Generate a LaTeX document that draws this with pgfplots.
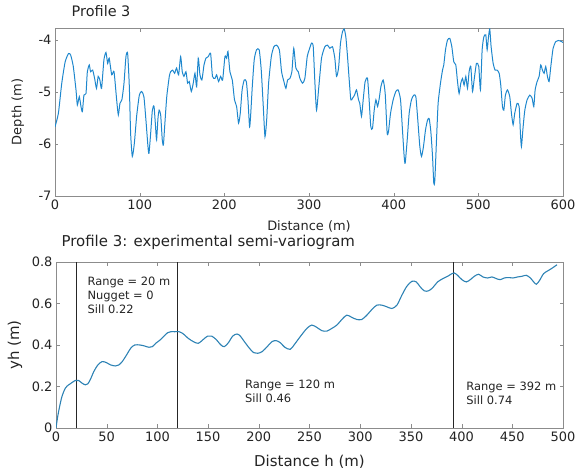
\documentclass[border=0pt]{standalone}
\usepackage{pgfplots}
\pgfplotsset{compat=1.18}
\usepackage{fontspec}
\setmainfont{DejaVu Sans}
\definecolor{profblue}{RGB}{30,135,205}
\definecolor{vgblue}{RGB}{45,130,180}
\definecolor{axgray}{RGB}{140,140,140}
\definecolor{txtgray}{RGB}{35,35,35}
\begin{document}
\begin{tikzpicture}
\useasboundingbox (0,0) rectangle (577bp,-472bp);
\begin{axis}[
  at={(55bp,-28bp)}, anchor=north west,
  scale only axis, width=508bp, height=168bp,
  xmin=0, xmax=600, ymin=-7, ymax=-3.77,
  xtick={0,100,...,600}, ytick={-7,-6,-5,-4},
  /pgf/number format/assume math mode=true,
  axis line style={axgray}, tick style={axgray},
  tick align=inside, major tick length=3.5bp,
  ticklabel style={font=\fontsize{13}{15}\selectfont, text=txtgray},
  xlabel={Distance (m)}, ylabel={Depth (m)},
  xlabel style={font=\fontsize{13}{15}\selectfont, text=txtgray, at={(axis description cs:0.5,-0.18)}, anchor=center},
  ylabel style={font=\fontsize{13}{15}\selectfont, text=txtgray, at={(axis description cs:-0.073,0.5)}, anchor=center},
  title={Profile 3},
  title style={font=\fontsize{14.5}{16}\selectfont, text=txtgray, at={(axis description cs:0.026,1.065)}, anchor=west},
]
\addplot[profblue, line width=1pt, smooth, tension=0.35] coordinates {
(0,-5.67)(4,-5.41)(8,-4.83)(12,-4.42)(16,-4.26)(18.5,-4.29)(21.6,-4.51)(24.8,-4.96)(26.4,-5.25)(28.7,-5.09)
(30.7,-5.28)(32.3,-5.38)(34.2,-5.06)(36.6,-5.03)(38.2,-4.61)(40.5,-4.48)(42,-4.61)(44.5,-4.58)(46.8,-4.74)(49,-4.93)
(51,-4.70)(53,-4.77)(55,-4.93)(57.8,-4.38)(60.2,-4.24)(62.2,-4.45)(64,-4.35)(67,-4.67)(69.7,-4.61)(72.8,-5.15)
(74.8,-5.44)(76.7,-5.22)(79,-5.15)(81.5,-4.83)(83.8,-4.32)(85.8,-4.26)(87.8,-4.90)(89.3,-5.79)(91.3,-6.24)(93.7,-5.99)
(96.4,-5.47)(99.6,-5.06)(102.3,-4.99)(105,-5.09)(107.4,-5.54)(109.8,-6.05)(111,-6.18)(113,-5.79)(115,-5.35)(117,-5.28)
(119,-5.73)(120,-5.92)(121.6,-5.51)(123,-5.35)(124.8,-5.44)(126.7,-5.92)(128,-6.02)(129.5,-5.67)(132,-5.09)(135,-4.70)
(136.6,-4.61)(139,-4.58)(141.3,-4.64)(143.6,-4.54)(146,-4.67)(148.4,-4.32)(150.3,-4.61)(152.3,-4.70)(154.7,-4.61)(156.6,-4.83)
(158.6,-4.80)(161,-4.99)(163.3,-4.83)(165.3,-4.64)(167.3,-4.90)(169.2,-4.35)(171.2,-4.67)(173.5,-4.77)(176,-4.48)(178.3,-4.35)
(181,-4.32)(183.8,-4.26)(186,-4.70)(189,-4.74)(190.9,-4.67)(193.2,-4.80)(195.6,-4.70)(198,-4.77)(200.7,-4.32)(202.7,-4.35)
(204.3,-4.22)(206.6,-4.61)(209.4,-4.77)(212,-5.15)(214.5,-5.28)(216.8,-5.60)(218.8,-5.41)(221,-4.96)(223.5,-4.77)(226,-4.80)
(227.9,-5.15)(229.8,-5.67)(231,-5.47)(233,-4.90)(235.3,-4.38)(238,-4.19)(241.2,-4.19)(243.6,-4.58)(246,-5.28)(248,-5.86)
(250,-5.54)(252.3,-4.83)(255.5,-4.32)(258.5,-4.13)(261.7,-4.10)(265,-4.19)(267.6,-4.61)(270.4,-4.80)(272.7,-4.93)(274.7,-4.77)
(277.4,-4.74)(279.8,-4.61)(282,-4.16)(284.5,-4.54)(287.3,-4.61)(289.3,-4.74)(292.4,-4.83)(295.1,-4.74)(297.9,-4.32)(300.2,-4.19)
(303,-4.06)(305,-4.13)(307,-4.83)(308.9,-5.35)(311.6,-4.90)(314.8,-4.35)(318.7,-4.13)(321.9,-4.10)(324.6,-4.16)(327.8,-4.13)
(330.5,-4.35)(332.5,-4.70)(334.9,-4.54)(337.2,-4.06)(339.6,-3.84)(341.6,-3.79)(343.5,-3.94)(345.5,-4.32)(347.5,-4.77)(349.4,-5.15)
(351.4,-5.12)(353.8,-5.06)(356.1,-4.96)(358.5,-5.15)(360,-5.22)(362,-5.47)(364,-5.15)(366.3,-4.80)(369.1,-4.74)(371,-5.15)
(373,-5.67)(375,-5.70)(377,-5.35)(379,-5.15)(381,-5.28)(383,-5.12)(384.9,-4.90)(387.6,-4.77)(390,-5.03)(392.3,-5.79)
(393.9,-5.76)(396.3,-5.41)(399.4,-5.15)(402.6,-4.99)(405.3,-4.96)(408.1,-5.15)(410.4,-5.73)(412.4,-6.24)(413.6,-6.37)(416,-5.92)
(418.3,-5.41)(421,-5.15)(423.8,-5.06)(426.2,-5.09)(428.5,-5.54)(430.9,-6.05)(432.9,-6.24)(435.2,-6.05)(437.6,-5.73)(440,-5.54)
(441.9,-5.51)(443.9,-5.76)(445.9,-6.24)(447.4,-6.76)(448.6,-6.70)(450.6,-5.92)(452.5,-5.22)(455.3,-4.83)(457.7,-4.58)(459.2,-4.48)
(461.2,-4.19)(463.6,-4.00)(466.3,-3.97)(468.7,-4.13)(471,-4.42)(473.4,-4.48)(475.4,-4.80)(477.3,-5.03)(479.3,-4.83)(481.3,-4.74)
(483.2,-4.87)(485.2,-4.70)(487.2,-4.93)(489.1,-4.61)(491.1,-4.51)(493.1,-4.99)(495,-4.77)(497.8,-4.45)(500.5,-4.51)(502.5,-4.96)
(504.5,-4.19)(506.5,-3.94)(508.8,-3.90)(510.4,-4.19)(512,-3.94)(513.5,-3.79)(515.1,-4.13)(517.5,-4.45)(519.8,-4.58)(522.2,-4.58)
(524.6,-4.64)(526.5,-4.87)(528.5,-5.28)(530.1,-5.35)(532,-5.06)(534.4,-4.96)(537.1,-5.09)(539.1,-5.41)(541.1,-5.63)(543,-5.41)
(545.8,-5.22)(548.2,-5.28)(549.7,-5.79)(550.9,-6.05)(552.9,-5.67)(554.9,-5.35)(557.6,-5.15)(560.8,-5.06)(563.5,-5.12)(565.5,-5.28)
(567.1,-4.96)(569.4,-4.80)(571.8,-4.70)(573.7,-4.48)(575.7,-4.58)(577.7,-4.64)(579.6,-4.51)(581.6,-4.70)(583.6,-4.80)(585.6,-4.51)
(588.3,-4.16)(591.5,-4.03)(594.6,-4.01)(598.2,-4.03)(600,-4.05)
};
\end{axis}
\begin{axis}[
  at={(56bp,-262bp)}, anchor=north west,
  scale only axis, width=507bp, height=166bp,
  xmin=0, xmax=500, ymin=0, ymax=0.8,
  xtick={0,50,...,500}, ytick={0,0.2,0.4,0.6,0.8},
  yticklabels={0,0.2,0.4,0.6,0.8},
  /pgf/number format/assume math mode=true,
  axis line style={axgray}, tick style={axgray},
  tick align=inside, major tick length=3.5bp,
  ticklabel style={font=\fontsize{13}{15}\selectfont, text=txtgray},
  xlabel={Distance h (m)}, ylabel={yh (m)},
  xlabel style={font=\fontsize{15}{17}\selectfont, text=txtgray, at={(axis description cs:0.5,-0.205)}, anchor=center},
  ylabel style={font=\fontsize{15}{17}\selectfont, text=txtgray, at={(axis description cs:-0.081,0.5)}, anchor=center},
  title={Profile 3: experimental semi-variogram},
  title style={font=\fontsize{15}{17}\selectfont, text=txtgray, at={(axis description cs:0.004,1.084)}, anchor=west},
]
\addplot[black!85, line width=1.1pt] coordinates {(20,0)(20,0.8)};
\addplot[black!85, line width=1.1pt] coordinates {(120,0)(120,0.8)};
\addplot[black!85, line width=1.1pt] coordinates {(392,0)(392,0.8)};
\addplot[vgblue, line width=1.1pt, smooth, tension=0.5] coordinates {
(0,0)(1.7,0.056)(3.6,0.104)(5.9,0.152)(9.2,0.192)(12.5,0.208)(15.8,0.219)(19.1,0.229)(22.4,0.229)(25.7,0.216)
(29,0.208)(31.4,0.213)(34,0.235)(37.3,0.272)(41.3,0.304)(45.5,0.32)(49.8,0.315)(53.8,0.304)(58.7,0.299)(62,0.304)
(65.3,0.32)(69.6,0.352)(73.6,0.384)(77.6,0.40)(82.8,0.40)(87.5,0.395)(91.7,0.389)(95,0.392)(98.3,0.408)(102.6,0.424)
(106.6,0.443)(110,0.459)(113.2,0.464)(117.2,0.464)(121.5,0.464)(125.7,0.453)(130.4,0.432)(135.6,0.416)(140.3,0.408)(144.6,0.424)
(149.5,0.443)(153.5,0.443)(157.8,0.427)(162.7,0.40)(166,0.392)(170,0.411)(174.3,0.443)(178.5,0.453)(181.8,0.443)(185.8,0.416)
(190.8,0.384)(195,0.363)(199,0.36)(203.3,0.368)(208.3,0.392)(212.9,0.416)(217.2,0.421)(221.5,0.41)(225.4,0.39)(230.9,0.379)
(235.5,0.405)(240.8,0.44)(247.4,0.48)(252.3,0.496)(257.2,0.485)(262.2,0.469)(267.1,0.467)(272,0.48)(277,0.496)(281.9,0.523)
(286.8,0.544)(291.8,0.533)(296.7,0.523)(301.6,0.523)(306.6,0.544)(311.5,0.571)(316.4,0.592)(321.4,0.592)(326.3,0.584)(331.3,0.576)
(336.2,0.592)(341.1,0.64)(346,0.683)(351,0.707)(355.3,0.704)(359.2,0.68)(363.2,0.661)(367.4,0.661)(371.7,0.677)(376.3,0.704)
(381.6,0.72)(386.2,0.731)(390.5,0.744)(392.8,0.747)(396,0.736)(400.3,0.715)(404.6,0.704)(408.6,0.715)(412.5,0.731)(416.8,0.741)
(421,0.728)(425.7,0.723)(430,0.728)(434.2,0.72)(438.2,0.715)(442.1,0.723)(446.4,0.725)(450.7,0.723)(455.3,0.728)(459.5,0.731)
(463.8,0.736)(467.8,0.723)(471.1,0.704)(473.7,0.693)(477,0.712)(480.9,0.744)(485.9,0.76)(490.1,0.773)(494.1,0.787)
};
\node[anchor=north west, inner sep=0pt, align=left, text=txtgray, font=\fontsize{11.5}{14}\selectfont] at (axis cs:31,0.727) {Range = 20 m\\Nugget = 0\\Sill 0.22};
\node[anchor=north west, inner sep=0pt, align=left, text=txtgray, font=\fontsize{11.5}{14}\selectfont] at (axis cs:186.4,0.231) {Range = 120 m\\Sill 0.46};
\node[anchor=north west, inner sep=0pt, align=left, text=txtgray, font=\fontsize{11.5}{14}\selectfont] at (axis cs:404.6,0.223) {Range = 392 m\\Sill 0.74};
\end{axis}
\end{tikzpicture}
\end{document}
